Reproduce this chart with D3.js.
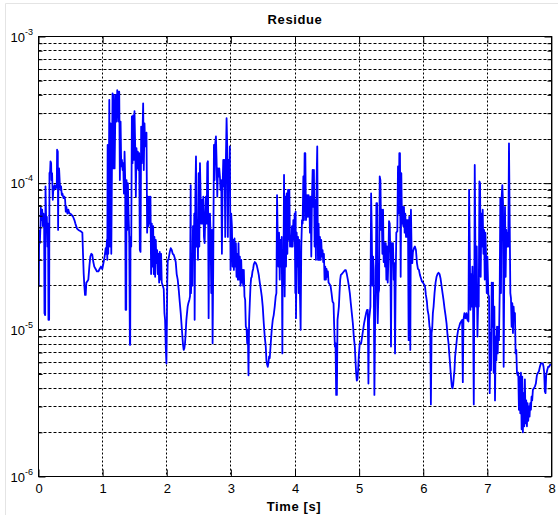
<!DOCTYPE html>
<html>
<head>
<meta charset="utf-8">
<script src="https://cdn.jsdelivr.net/npm/d3@7"></script>
<style>
  html, body { margin: 0; padding: 0; background: #fff; }
  svg { display: block; }
  text { font-family: "Liberation Sans", Arial, Helvetica, sans-serif; fill: #000; }
</style>
</head>
<body>
<svg id="chart" width="558" height="515"></svg>
<script>
// Residue over time, [time (s), residue] pairs, one array per second
const residueSec0 = [[0.000,4.8e-5],[0.005,2.0e-5],[0.010,4.3e-5],[0.021,3.9e-5],[0.031,5.1e-5],[0.036,6.8e-5],[0.047,5.6e-5],[0.057,6.6e-5],[0.067,5.1e-5],[0.078,6.2e-5],[0.088,5.3e-5],[0.093,1.3e-5],[0.104,1.26e-5],[0.109,9.5e-5],[0.119,5.6e-5],[0.130,5.9e-5],[0.140,3.7e-5],[0.150,5.3e-5],[0.155,1.17e-5],[0.166,1.17e-5],[0.171,1.17e-4],[0.181,1.2e-4],[0.187,1.41e-4],[0.197,1.37e-4],[0.202,1.05e-4],[0.212,1.17e-4],[0.223,7.7e-5],[0.233,9.5e-5],[0.244,9.0e-5],[0.254,9.7e-5],[0.269,9.2e-5],[0.285,9.5e-5],[0.290,1.69e-4],[0.301,1.64e-4],[0.306,4.8e-5],[0.311,1.05e-4],[0.321,1.26e-4],[0.332,1.0e-4],[0.342,9.0e-5],[0.352,9.5e-5],[0.363,8.3e-5],[0.373,8.5e-5],[0.389,7.9e-5],[0.404,8.1e-5],[0.415,7.7e-5],[0.425,6.4e-5],[0.435,6.9e-5],[0.451,6.2e-5],[0.466,6.6e-5],[0.482,6.2e-5],[0.497,6.2e-5],[0.513,6.1e-5],[0.539,5.9e-5],[0.560,5.6e-5],[0.575,5.3e-5],[0.601,4.9e-5],[0.622,4.8e-5],[0.658,4.7e-5],[0.684,4.6e-5],[0.694,3.3e-5],[0.705,2.4e-5],[0.715,2.0e-5],[0.725,1.73e-5],[0.736,1.73e-5],[0.746,2.1e-5],[0.762,2.14e-5],[0.777,2.2e-5],[0.793,2.7e-5],[0.808,3.16e-5],[0.824,3.3e-5],[0.839,3.25e-5],[0.855,2.9e-5],[0.870,2.7e-5],[0.891,2.6e-5],[0.912,2.5e-5],[0.933,2.5e-5],[0.953,2.6e-5],[0.974,2.7e-5]];
const residueSec1 = [[0.995,2.6e-5],[1.016,2.9e-5],[1.031,3.16e-5],[1.047,3.6e-5],[1.057,3.3e-5],[1.067,4.1e-5],[1.073,3.0e-5],[1.078,1.82e-4],[1.088,3.3e-5],[1.098,1.05e-4],[1.104,3.7e-4],[1.114,3.7e-5],[1.124,2.56e-4],[1.135,3.3e-5],[1.145,1.23e-4],[1.155,4.1e-4],[1.166,1.26e-4],[1.176,4.0e-4],[1.187,1.26e-4],[1.197,2.7e-4],[1.207,4.0e-4],[1.218,2.63e-4],[1.228,4.3e-4],[1.238,4.1e-4],[1.249,2.63e-4],[1.259,4.2e-4],[1.269,1.05e-4],[1.280,2.63e-4],[1.290,1.3e-4],[1.301,1.44e-4],[1.311,1.23e-4],[1.321,1.37e-4],[1.332,8.5e-5],[1.342,1.64e-4],[1.352,1.05e-4],[1.358,1.37e-5],[1.368,1.37e-5],[1.373,1.05e-4],[1.383,4.8e-5],[1.394,1.0e-4],[1.404,6.2e-5],[1.415,4.3e-5],[1.425,7.9e-6],[1.430,7.9e-6],[1.435,4.3e-5],[1.446,3.7e-5],[1.456,2.85e-4],[1.466,1.37e-4],[1.477,2.9e-4],[1.487,1.44e-4],[1.497,3.1e-4],[1.508,1.78e-4],[1.518,8.1e-5],[1.528,1.73e-4],[1.539,1.26e-4],[1.549,1.64e-4],[1.559,1.23e-4],[1.570,1.6e-4],[1.580,3.5e-5],[1.591,3.4e-5],[1.601,2.43e-4],[1.611,1.37e-4],[1.622,2.19e-4],[1.632,3.5e-4],[1.642,1.23e-4],[1.653,2.56e-4],[1.663,1.78e-4],[1.674,2.08e-4],[1.684,2.21e-4],[1.694,4.6e-5],[1.705,8.1e-5],[1.715,5.1e-5],[1.725,8.1e-5],[1.736,5.3e-5],[1.746,8.1e-5],[1.756,2.4e-5],[1.767,5.3e-5],[1.777,2.7e-5],[1.788,5.1e-5],[1.798,2.4e-5],[1.808,4.3e-5],[1.819,2.3e-5],[1.829,4.1e-5],[1.839,2.85e-5],[1.850,3.5e-5],[1.860,2.4e-5],[1.870,3.3e-5],[1.881,2.1e-5],[1.891,3.4e-5],[1.902,2.2e-5],[1.912,3.3e-5],[1.922,2.1e-5],[1.938,2.0e-5],[1.953,1.9e-5],[1.964,1.3e-5],[1.974,1.17e-5],[1.984,7.7e-6],[1.995,5.9e-6]];
const residueSec2 = [[2.003,1.2e-5],[2.008,2.1e-5],[2.016,3.0e-5],[2.026,3.0e-5],[2.047,3.4e-5],[2.062,3.6e-5],[2.078,3.5e-5],[2.093,3.3e-5],[2.109,3.25e-5],[2.124,3.1e-5],[2.140,2.9e-5],[2.155,2.4e-5],[2.171,2.2e-5],[2.187,1.87e-5],[2.202,1.56e-5],[2.218,1.3e-5],[2.233,1.05e-5],[2.244,9.0e-6],[2.254,7.9e-6],[2.264,7.3e-6],[2.275,7.5e-6],[2.285,8.1e-6],[2.295,9.5e-6],[2.306,1.17e-5],[2.316,1.3e-5],[2.326,1.44e-5],[2.337,1.52e-5],[2.352,1.6e-5],[2.363,1.69e-5],[2.373,9.7e-5],[2.378,1.78e-5],[2.389,2.7e-5],[2.399,2.0e-5],[2.409,5.1e-5],[2.420,3.3e-5],[2.430,6.2e-5],[2.435,1.17e-5],[2.446,8.1e-5],[2.456,1.52e-4],[2.466,3.7e-5],[2.477,5.6e-5],[2.487,3.0e-5],[2.497,1.17e-4],[2.508,3.7e-5],[2.518,1.37e-4],[2.528,8.1e-5],[2.539,5.3e-5],[2.549,7.7e-5],[2.560,5.3e-5],[2.570,8.1e-5],[2.580,4.3e-5],[2.591,3.9e-5],[2.601,6.2e-5],[2.611,8.1e-5],[2.622,5.3e-5],[2.632,1.37e-4],[2.642,1.41e-4],[2.653,1.2e-5],[2.663,4.8e-5],[2.674,6.2e-5],[2.684,4.3e-5],[2.694,1.78e-5],[2.705,4.8e-5],[2.715,8.1e-6],[2.725,2.7e-5],[2.736,1.82e-4],[2.746,1.05e-4],[2.756,1.87e-4],[2.767,2.08e-4],[2.777,1.44e-4],[2.788,8.1e-5],[2.798,1.26e-4],[2.808,1.11e-4],[2.819,1.26e-4],[2.829,1.11e-4],[2.839,9.0e-5],[2.850,1.05e-4],[2.860,3.3e-5],[2.870,9.0e-5],[2.881,1.44e-4],[2.891,9.5e-5],[2.902,1.44e-4],[2.912,4.3e-5],[2.922,1.44e-4],[2.933,2.77e-4],[2.943,1.78e-4],[2.953,4.3e-5],[2.964,1.44e-4],[2.974,9.5e-5],[2.984,1.78e-4],[2.995,2.56e-5]];
const residueSec3 = [[3.005,6.2e-5],[3.016,5.1e-5],[3.026,2.7e-5],[3.036,4.1e-5],[3.047,2.56e-5],[3.057,4.2e-5],[3.067,2.7e-5],[3.078,3.9e-5],[3.088,2.3e-5],[3.098,3.3e-5],[3.109,2.2e-5],[3.119,3.9e-5],[3.130,2.2e-5],[3.140,3.16e-5],[3.150,2.0e-5],[3.161,3.0e-5],[3.171,2.1e-5],[3.181,2.56e-5],[3.192,2.0e-5],[3.202,2.56e-5],[3.212,1.69e-5],[3.223,1.6e-5],[3.233,1.05e-5],[3.244,1.03e-5],[3.254,8.1e-6],[3.264,1.0e-5],[3.275,4.9e-6],[3.285,1.17e-5],[3.295,1.52e-5],[3.306,2.0e-5],[3.316,2.25e-5],[3.326,2.3e-5],[3.337,2.5e-5],[3.347,2.6e-5],[3.358,2.8e-5],[3.373,2.9e-5],[3.389,2.85e-5],[3.404,2.75e-5],[3.420,2.56e-5],[3.435,2.37e-5],[3.451,2.1e-5],[3.466,1.9e-5],[3.482,1.69e-5],[3.497,1.44e-5],[3.513,1.11e-5],[3.528,9.0e-6],[3.544,7.7e-6],[3.554,6.2e-6],[3.565,5.8e-6],[3.575,5.6e-6],[3.585,5.9e-6],[3.596,6.6e-6],[3.606,6.4e-6],[3.622,8.1e-6],[3.637,1.0e-5],[3.653,1.17e-5],[3.668,1.26e-5],[3.684,1.44e-5],[3.699,1.69e-5],[3.710,1.78e-5],[3.720,8.3e-5],[3.731,4.1e-5],[3.741,2.7e-5],[3.751,4.6e-5],[3.762,2.2e-5],[3.772,4.1e-5],[3.782,2.7e-5],[3.793,4.3e-5],[3.803,6.9e-6],[3.808,2.7e-5],[3.819,2.0e-5],[3.829,1.14e-4],[3.839,1.69e-5],[3.850,8.1e-5],[3.860,2.7e-5],[3.870,8.5e-5],[3.881,3.3e-5],[3.891,9.0e-5],[3.902,4.1e-5],[3.912,9.0e-5],[3.922,3.7e-5],[3.933,4.3e-5],[3.943,3.7e-5],[3.953,5.1e-5],[3.964,3.7e-5],[3.974,5.6e-5],[3.984,4.1e-5],[3.995,6.2e-5]];
const residueSec4 = [[4.005,1.78e-5],[4.010,6.4e-5],[4.016,1.2e-5],[4.026,4.6e-5],[4.036,2.7e-5],[4.047,4.3e-5],[4.057,1.78e-5],[4.067,4.1e-5],[4.078,1.69e-5],[4.088,1.0e-5],[4.098,3.7e-5],[4.109,5.6e-5],[4.119,5.3e-5],[4.130,1.11e-4],[4.140,5.6e-5],[4.150,1.6e-4],[4.161,1.6e-4],[4.171,5.6e-5],[4.181,6.2e-5],[4.192,8.3e-5],[4.202,5.9e-5],[4.212,8.3e-5],[4.223,7.7e-5],[4.233,4.6e-5],[4.244,8.1e-5],[4.254,3.16e-5],[4.264,7.7e-5],[4.275,1.23e-4],[4.285,6.9e-5],[4.295,1.23e-4],[4.306,3.7e-5],[4.316,7.7e-5],[4.326,3.0e-5],[4.337,1.05e-4],[4.347,1.78e-4],[4.358,3.0e-5],[4.368,5.3e-5],[4.378,3.0e-5],[4.389,4.3e-5],[4.399,3.0e-5],[4.409,4.1e-5],[4.420,3.16e-5],[4.430,3.5e-5],[4.440,2.9e-5],[4.451,3.3e-5],[4.461,2.2e-5],[4.472,2.7e-5],[4.482,2.2e-5],[4.492,2.6e-5],[4.503,2.3e-5],[4.513,2.5e-5],[4.523,2.1e-5],[4.539,2.05e-5],[4.554,2.0e-5],[4.570,1.78e-5],[4.585,1.56e-5],[4.601,1.52e-5],[4.611,1.05e-5],[4.622,7.7e-6],[4.632,8.1e-6],[4.642,3.6e-6],[4.653,3.6e-6],[4.663,1.17e-5],[4.674,1.3e-5],[4.684,1.44e-5],[4.694,1.78e-5],[4.705,2.2e-5],[4.715,2.37e-5],[4.731,2.4e-5],[4.746,2.45e-5],[4.762,2.5e-5],[4.777,2.55e-5],[4.793,2.55e-5],[4.808,2.4e-5],[4.824,2.2e-5],[4.839,2.0e-5],[4.855,1.78e-5],[4.870,1.52e-5],[4.886,1.3e-5],[4.902,1.11e-5],[4.917,9.0e-6],[4.933,7.7e-6],[4.943,6.2e-6],[4.953,5.1e-6],[4.964,4.5e-6],[4.974,4.6e-6],[4.984,5.3e-6],[4.995,6.6e-6]];
const residueSec5 = [[5.010,8.1e-6],[5.031,8.1e-6],[5.047,9.0e-6],[5.062,1.0e-5],[5.078,1.11e-5],[5.093,1.2e-5],[5.109,1.3e-5],[5.124,1.37e-5],[5.135,1.37e-5],[5.145,4.3e-6],[5.155,1.17e-5],[5.166,1.3e-5],[5.176,1.44e-5],[5.187,8.5e-5],[5.197,4.6e-5],[5.207,2.0e-5],[5.218,3.16e-5],[5.228,2.56e-5],[5.238,3.6e-6],[5.249,1.11e-5],[5.259,1.78e-5],[5.269,7.3e-5],[5.280,7.3e-5],[5.290,1.11e-5],[5.301,1.78e-5],[5.311,1.87e-5],[5.321,1.11e-4],[5.332,1.05e-4],[5.342,4.8e-5],[5.352,6.6e-5],[5.363,3.3e-5],[5.373,6.6e-5],[5.383,2.9e-5],[5.394,3.9e-5],[5.404,2.7e-5],[5.415,3.9e-5],[5.425,2.2e-5],[5.435,3.7e-5],[5.446,2.1e-5],[5.456,3.0e-5],[5.466,5.5e-5],[5.477,5.3e-5],[5.487,3.3e-5],[5.497,7.7e-6],[5.508,3.9e-5],[5.518,3.3e-5],[5.528,3.9e-5],[5.539,2.2e-5],[5.549,2.85e-5],[5.560,6.9e-6],[5.570,2.2e-5],[5.580,4.6e-5],[5.596,4.7e-5],[5.606,1.3e-4],[5.617,6.2e-5],[5.627,1.6e-4],[5.637,1.6e-4],[5.648,2.3e-5],[5.658,1.17e-4],[5.668,5.3e-5],[5.679,6.9e-5],[5.689,5.1e-5],[5.699,6.9e-5],[5.710,4.6e-5],[5.720,6.2e-5],[5.731,4.3e-5],[5.741,5.6e-5],[5.751,4.3e-5],[5.762,5.6e-5],[5.772,8.5e-6],[5.782,5.9e-5],[5.793,5.6e-5],[5.798,7.3e-6],[5.808,6.6e-5],[5.819,3.3e-5],[5.829,2.85e-5],[5.839,3.4e-5],[5.855,3.6e-5],[5.870,3.7e-5],[5.886,3.5e-5],[5.902,2.85e-5],[5.917,2.6e-5],[5.933,2.56e-5],[5.948,2.37e-5],[5.964,2.25e-5],[5.979,2.14e-5],[5.995,2.1e-5]];
const residueSec6 = [[6.010,2.05e-5],[6.026,2.0e-5],[6.041,1.73e-5],[6.057,1.56e-5],[6.067,1.37e-5],[6.083,1.26e-5],[6.098,1.05e-5],[6.109,1.0e-5],[6.119,3.1e-6],[6.130,9.5e-6],[6.140,1.03e-5],[6.150,1.3e-5],[6.161,1.44e-5],[6.176,1.78e-5],[6.192,2.1e-5],[6.207,2.3e-5],[6.223,2.4e-5],[6.238,2.45e-5],[6.254,2.4e-5],[6.269,2.25e-5],[6.285,2.0e-5],[6.301,1.78e-5],[6.316,1.6e-5],[6.332,1.4e-5],[6.347,1.26e-5],[6.363,1.11e-5],[6.378,9.3e-6],[6.394,8.1e-6],[6.409,6.6e-6],[6.425,5.3e-6],[6.435,4.6e-6],[6.446,4.1e-6],[6.456,4.0e-6],[6.466,4.2e-6],[6.477,4.8e-6],[6.487,5.3e-6],[6.497,6.6e-6],[6.513,7.7e-6],[6.528,9.0e-6],[6.544,1.0e-5],[6.560,1.05e-5],[6.575,1.11e-5],[6.591,1.14e-5],[6.606,1.17e-5],[6.617,4.4e-6],[6.627,1.17e-5],[6.642,1.3e-5],[6.658,1.2e-5],[6.674,1.3e-5],[6.689,1.17e-5],[6.705,1.14e-5],[6.715,9.0e-5],[6.725,3.7e-5],[6.736,1.37e-5],[6.746,2.4e-5],[6.756,1.44e-5],[6.767,2.7e-5],[6.777,1.37e-5],[6.788,3.1e-6],[6.798,2.7e-5],[6.803,1.33e-4],[6.813,3.7e-5],[6.824,1.44e-5],[6.834,3.7e-5],[6.845,9.0e-6],[6.855,1.44e-5],[6.865,1.44e-5],[6.876,1.03e-4],[6.886,1.0e-4],[6.896,2.3e-5],[6.907,6.2e-5],[6.917,3.7e-5],[6.927,6.6e-5],[6.938,3.3e-5],[6.948,4.8e-5],[6.959,2.2e-5],[6.969,4.6e-5],[6.979,3.3e-5],[6.990,1.78e-5],[7.000,3.16e-5]];
const residueSec7 = [[7.016,1.73e-5],[7.026,1.69e-5],[7.036,3.7e-6],[7.047,9.5e-6],[7.057,5.3e-6],[7.067,2.1e-5],[7.078,1.05e-5],[7.088,2.1e-5],[7.098,5.1e-6],[7.109,1.44e-5],[7.119,3.3e-6],[7.130,9.0e-6],[7.140,6.2e-6],[7.150,1.05e-5],[7.161,6.9e-6],[7.171,1.05e-5],[7.181,8.5e-6],[7.192,1.78e-5],[7.202,7.9e-5],[7.212,1.78e-5],[7.223,8.1e-5],[7.233,9.7e-5],[7.244,7.3e-5],[7.254,5.6e-6],[7.264,2.7e-5],[7.275,6.9e-5],[7.285,2.3e-5],[7.295,4.8e-5],[7.306,3.7e-5],[7.316,4.6e-5],[7.326,3.7e-5],[7.337,1.87e-4],[7.347,6.2e-5],[7.358,1.78e-5],[7.368,1.64e-5],[7.378,1.05e-5],[7.389,1.52e-5],[7.399,9.5e-6],[7.409,1.44e-5],[7.420,1.17e-5],[7.430,1.3e-5],[7.440,6.9e-6],[7.451,7.3e-6],[7.461,5.1e-6],[7.472,4.9e-6],[7.482,5.1e-6],[7.492,2.85e-6],[7.503,4.8e-6],[7.513,2.7e-6],[7.523,5.1e-6],[7.534,2.1e-6],[7.544,4.8e-6],[7.554,2.0e-6],[7.565,3.7e-6],[7.575,2.2e-6],[7.585,4.6e-6],[7.596,2.3e-6],[7.606,3.3e-6],[7.617,2.2e-6],[7.627,3.16e-6],[7.637,2.4e-6],[7.648,3.0e-6],[7.658,2.56e-6],[7.668,3.16e-6],[7.679,2.85e-6],[7.689,3.5e-6],[7.699,3.3e-6],[7.710,3.9e-6],[7.725,4.0e-6],[7.741,4.1e-6],[7.756,4.3e-6],[7.772,4.9e-6],[7.788,5.1e-6],[7.803,5.2e-6],[7.819,5.6e-6],[7.834,5.9e-6],[7.850,5.9e-6],[7.865,5.9e-6],[7.876,5.6e-6],[7.886,5.1e-6],[7.896,3.8e-6],[7.907,3.7e-6],[7.917,4.9e-6],[7.933,5.3e-6],[7.948,5.6e-6],[7.964,5.6e-6],[7.979,5.8e-6],[7.995,5.8e-6]];

// Axis ticks
const timeTicks = [0, 1, 2, 3, 4, 5, 6, 7, 8];
const decadeTicks = [1e-6, 1e-5, 1e-4, 1e-3];
const decadeExponents = ["-6", "-5", "-4", "-3"];

const chartTitle = "Residue";
const xLabel = "Time [s]";

const residue = [].concat(residueSec0, residueSec1, residueSec2, residueSec3,
                          residueSec4, residueSec5, residueSec6, residueSec7);

const W = 558, H = 515;
const plot = { left: 38.5, right: 551.5, top: 36.5, bottom: 476.5 };

const svg = d3.select("#chart");

const x = d3.scaleLinear().domain([0, 8]).range([plot.left, plot.right]);
const y = d3.scaleLog().domain([1e-6, 1e-3]).range([plot.bottom, plot.top]);

// all 1..9 multiples per decade
const logTicks = y.ticks();
const minorTicks = logTicks.filter(v => !decadeTicks.some(d => Math.abs(d - v) / d < 1e-9));

// faint outer frame
svg.append("path")
  .attr("d", `M5.5,${H} V3.5 H${W}`)
  .attr("fill", "none").attr("stroke", "#e4e4e4").attr("stroke-width", 1);

const grid = svg.append("g").attr("stroke", "#000").attr("stroke-width", 1).attr("fill", "none");

// horizontal grid lines at every log tick inside the range
grid.selectAll("line.h")
  .data(logTicks.filter(v => v > 1e-6 * 1.0001 && v < 1e-3 * 0.9999))
  .join("line").attr("class", "h")
  .attr("x1", plot.left).attr("x2", plot.right)
  .attr("y1", d => Math.round(y(d) - 0.5) + 0.5)
  .attr("y2", d => Math.round(y(d) - 0.5) + 0.5)
  .attr("stroke-dasharray", "3,2");

// vertical grid lines
grid.selectAll("line.v")
  .data(timeTicks.slice(1, -1))
  .join("line").attr("class", "v")
  .attr("y1", plot.top).attr("y2", plot.bottom)
  .attr("x1", d => Math.round(x(d) - 0.5) + 0.5)
  .attr("x2", d => Math.round(x(d) - 0.5) + 0.5)
  .attr("stroke-dasharray", "2,2");

// data line
svg.append("clipPath").attr("id", "plotClip")
  .append("rect")
  .attr("x", plot.left).attr("y", plot.top)
  .attr("width", plot.right - plot.left).attr("height", plot.bottom - plot.top);

const line = d3.line().x(d => x(d[0])).y(d => y(d[1]));
svg.append("path")
  .datum(residue)
  .attr("clip-path", "url(#plotClip)")
  .attr("d", line)
  .attr("fill", "none")
  .attr("stroke", "#0000ff")
  .attr("stroke-width", 1.8)
  .attr("stroke-linejoin", "round");

// axes (inward ticks on all four sides)
function styleAxis(g) {
  g.select(".domain").remove();
  g.selectAll(".tick line").attr("stroke", "#000").attr("stroke-width", 1);
}

const xBottom = svg.append("g")
  .attr("transform", `translate(0,${plot.bottom})`)
  .call(d3.axisBottom(x).tickValues(timeTicks).tickSizeInner(-7).tickSizeOuter(0)
        .tickPadding(7).tickFormat(d3.format("d")))
  .call(styleAxis);
xBottom.selectAll(".tick text")
  .attr("font-size", 13).attr("font-family", "Liberation Sans, Arial, sans-serif").attr("fill", "#000");

svg.append("g")
  .attr("transform", `translate(0,${plot.top})`)
  .call(d3.axisTop(x).tickValues(timeTicks).tickSizeInner(-7).tickSizeOuter(0).tickFormat(""))
  .call(styleAxis);

svg.append("g")
  .attr("transform", `translate(${plot.left},0)`)
  .call(d3.axisLeft(y).tickValues(decadeTicks).tickSizeInner(-7).tickSizeOuter(0).tickFormat(""))
  .call(styleAxis);
svg.append("g")
  .attr("transform", `translate(${plot.left},0)`)
  .call(d3.axisLeft(y).tickValues(minorTicks).tickSizeInner(-4).tickSizeOuter(0).tickFormat(""))
  .call(styleAxis);
svg.append("g")
  .attr("transform", `translate(${plot.right},0)`)
  .call(d3.axisRight(y).tickValues(decadeTicks).tickSizeInner(-7).tickSizeOuter(0).tickFormat(""))
  .call(styleAxis);
svg.append("g")
  .attr("transform", `translate(${plot.right},0)`)
  .call(d3.axisRight(y).tickValues(minorTicks).tickSizeInner(-4).tickSizeOuter(0).tickFormat(""))
  .call(styleAxis);

// decade labels: 10 with superscript exponent
const yLabels = svg.append("g").attr("text-anchor", "end");
decadeTicks.forEach((v, i) => {
  const t = yLabels.append("text")
    .attr("x", 33).attr("y", Math.round(y(v)) + 4.5)
    .attr("font-size", 13);
  t.append("tspan").text("10");
  t.append("tspan").attr("dy", -7).attr("font-size", 9).text(decadeExponents[i]);
});

// plot box
svg.append("rect")
  .attr("x", plot.left).attr("y", plot.top)
  .attr("width", plot.right - plot.left).attr("height", plot.bottom - plot.top)
  .attr("fill", "none").attr("stroke", "#000").attr("stroke-width", 1);
svg.append("line")
  .attr("x1", plot.right + 1).attr("x2", plot.right + 1)
  .attr("y1", plot.top).attr("y2", plot.bottom)
  .attr("stroke", "#9a9a9a").attr("stroke-width", 1);

// title and axis label
svg.append("text")
  .attr("x", (plot.left + plot.right) / 2).attr("y", 24)
  .attr("text-anchor", "middle").attr("font-size", 13).attr("font-weight", "bold")
  .attr("letter-spacing", 0.6)
  .text(chartTitle);

svg.append("text")
  .attr("x", (plot.left + plot.right) / 2 - 1).attr("y", 511)
  .attr("text-anchor", "middle").attr("font-size", 13).attr("font-weight", "bold")
  .attr("letter-spacing", 0.6)
  .text(xLabel);
</script>
</body>
</html>
